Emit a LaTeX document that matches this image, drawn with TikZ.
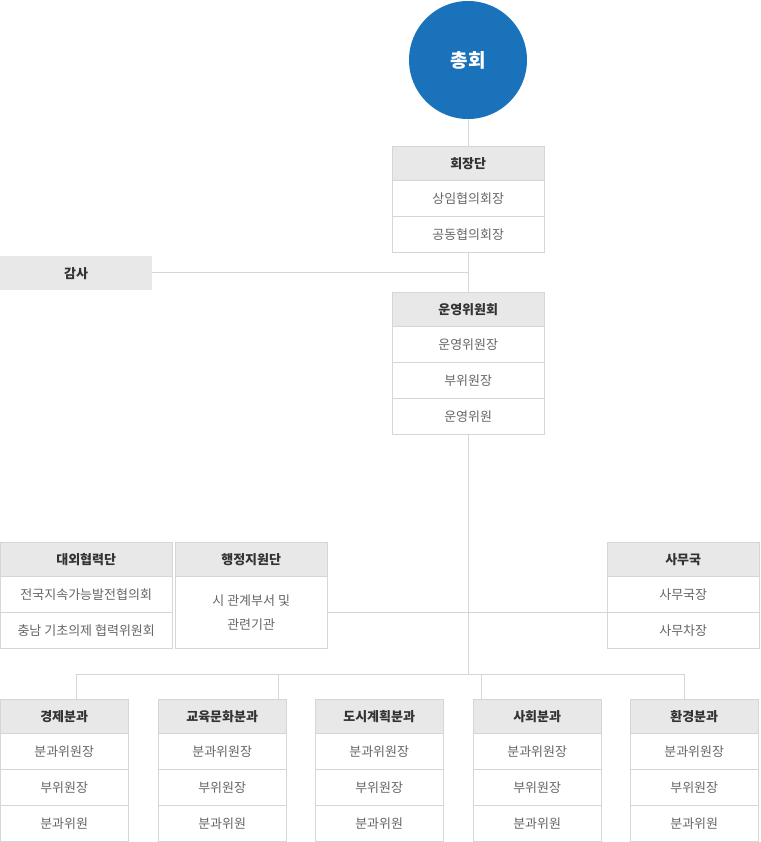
\documentclass[tikz,border=0pt]{standalone}
\usepackage{fontspec}
\setmainfont{Noto Sans CJK KR}
\usetikzlibrary{positioning}
\definecolor{circblue}{HTML}{1A73BA}
\definecolor{hdfill}{HTML}{E8E8E8}
\definecolor{bdline}{HTML}{D6D6D6}
\definecolor{hdtext}{HTML}{333333}
\definecolor{rwtext}{HTML}{666666}
\tikzset{
  hd/.style = {draw=bdline, fill=hdfill, text=hdtext, minimum height=34pt,
               inner sep=0pt, font=\fontsize{13}{15}\selectfont\bfseries},
  rw/.style = {draw=bdline, fill=white, text=rwtext, minimum height=36pt,
               inner sep=0pt, font=\fontsize{13}{15}\selectfont},
  conn/.style = {draw=bdline, line width=0.8pt}
}
% name, x, y, width, title, rows
\newcommand\orgbox[6]{%
  \node[hd, minimum width=#4pt, anchor=north west] (#1) at (#2,#3) {#5};
  \foreach \rowtxt [count=\i] in {#6} {
    \node[rw, minimum width=#4pt, anchor=north west] (#1-\i) at (#2,{#3+34+36*(\i-1)}) {\rowtxt};
  }%
}
\begin{document}
\begin{tikzpicture}[x=1pt, y=-1pt]
    \useasboundingbox (0,0) rectangle (760,842);
    % lines first
    \coordinate (top) at (468,119);
    \coordinate (mid) at (468,612);
    \coordinate (bus) at (468,674);
    \coordinate (busL) at (76,674);
    \coordinate (busR) at (684,674);
    \draw[conn] (top) -- (bus);
    \draw[conn] (busL) -- (busR);
    \draw[conn] (152,272) coordinate (gamsaR) -- (468,272);
    \draw[conn] (327,612) -- (607,612);
    \foreach \bx in {76,278,481,684} {
      \draw[conn] (\bx,674) -- (\bx,699);
    }
    % general assembly
    \node[circle, fill=circblue, minimum size=118pt, inner sep=0pt, text=white,
          font=\fontsize{19}{22}\selectfont\bfseries] (chonghoe) at (468,60) {총회};
    \orgbox{hoejang}{392}{146}{152}{회장단}{상임협의회장,공동협의회장}
    \node[fill=hdfill, text=hdtext, minimum width=152pt, minimum height=34pt, inner sep=0pt,
          anchor=north west, font=\fontsize{13}{15}\selectfont\bfseries] (gamsa) at (0,256) {감사};
    \orgbox{unyeong}{392}{292}{152}{운영위원회}{운영위원장,부위원장,운영위원}
    \orgbox{daeoe}{0}{542}{172}{대외협력단}{전국지속가능발전협의회,충남 기초의제 협력위원회}
    \node[hd, minimum width=152pt, anchor=north west] (haengjeong) at (175,542) {행정지원단};
    \node[rw, minimum width=152pt, minimum height=72pt, anchor=north west, align=center,
          font=\fontsize{13}{24}\selectfont] (haengjeong-1) at (175,576) {시 관계부서 및\\관련기관};
    \orgbox{samu}{607}{542}{152}{사무국}{사무국장,사무차장}
    \orgbox{gyeongje}{0}{699}{128}{경제분과}{분과위원장,부위원장,분과위원}
    \orgbox{gyoyuk}{158}{699}{128}{교육문화분과}{분과위원장,부위원장,분과위원}
    \orgbox{dosi}{315}{699}{128}{도시계획분과}{분과위원장,부위원장,분과위원}
    \orgbox{sahoe}{473}{699}{128}{사회분과}{분과위원장,부위원장,분과위원}
    \orgbox{hwangyeong}{630}{699}{128}{환경분과}{분과위원장,부위원장,분과위원}
\end{tikzpicture}
\end{document}
